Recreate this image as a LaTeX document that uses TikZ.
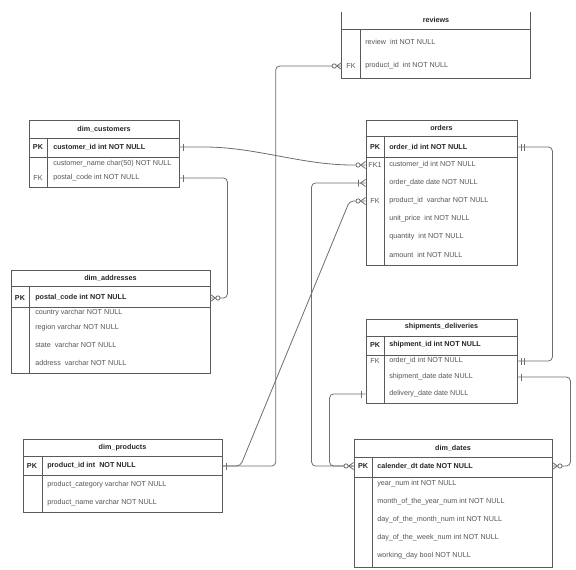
\documentclass[tikz,border=0pt]{standalone}
\usepackage{fontspec}
\setmainfont{Liberation Sans}
\usetikzlibrary{calc,fit}
\definecolor{erline}{HTML}{5A5A5A}
\definecolor{erlink}{HTML}{6E6E6E}
\definecolor{ertext}{HTML}{555555}
\definecolor{erdark}{HTML}{262626}
\tikzset{
  tbl/.style={draw=erline,line width=.65pt,inner sep=0pt},
  rule/.style={draw=erline,line width=.65pt},
  ttl/.style={inner sep=0pt,font=\fontsize{5.4}{6}\selectfont\bfseries,text=erdark},
  fld/.style={anchor=west,inner sep=0pt,font=\fontsize{5.4}{6}\selectfont,text=ertext},
  pkfld/.style={fld,font=\fontsize{5.4}{6}\selectfont\bfseries,text=erdark},
  keyl/.style={inner sep=0pt,font=\fontsize{5.4}{6}\selectfont,text=ertext},
  pkkey/.style={keyl,font=\fontsize{5.4}{6}\selectfont\bfseries,text=erdark},
  lnk/.style={draw=erlink,line width=.6pt,rounded corners=3pt},
  mk/.style={draw=erlink,line width=.6pt},
  erone/.pic={\draw[mk] (-4,-3.5) -- (-4,3.5);},
  ermand/.pic={\draw[mk] (-4,-3.5) -- (-4,3.5) (-6.5,-3.5) -- (-6.5,3.5);},
  erzmany/.pic={\draw[mk] (0,-3.5) -- (-5,0) -- (0,3.5);
    \draw[mk,fill=white] (-7.5,0) circle[radius=1.6pt];},
  eromany/.pic={\draw[mk] (0,-3.5) -- (-5,0) -- (0,3.5) (-7,-3.5) -- (-7,3.5);},
}
\begin{document}
\begin{tikzpicture}[x=.75pt,y=-.75pt]
  \path[use as bounding box,fill=white] (0,0) rectangle (576,569);

  % reviews
  \node[inner sep=0pt,fit={(342,12)(530,78)}] (rev) {};
  \draw[rule] (rev.north west) -- (rev.south west) -- (rev.south east) -- (rev.north east);
  \node[ttl] (revttl) at (436,20) {reviews};
  \draw[rule] (342,29) -- (530,29) (360,29) -- (360,78);
  \node[fld] (revrev) at (365,42) {review\ \ int NOT NULL};
  \node[keyl] (revk) at (351,66) {FK};
  \node[fld] (revprod) at (365,66) {product\_id\ \ int NOT NULL};

  % dim_customers
  \node[tbl,fit={(29,120)(179,187)}] (cust) {};
  \node[ttl] (custttl) at (104,129) {dim\_customers};
  \draw[rule] (29,138) -- (179,138) (29,157) -- (179,157) (47,138) -- (47,187);
  \node[pkkey] (custk1) at (38,147) {PK};
  \node[pkfld] (custid) at (53,147) {customer\_id int NOT NULL};
  \node[fld] (custname) at (53,164) {customer\_name char(50) NOT NULL};
  \node[keyl] (custk2) at (38,178) {FK};
  \node[fld] (custpost) at (53,178) {postal\_code int NOT NULL};

  % orders
  \node[tbl,fit={(366,120)(517,265)}] (ord) {};
  \node[ttl] (ordttl) at (441.5,128) {orders};
  \draw[rule] (366,136) -- (517,136) (366,157) -- (517,157) (384,136) -- (384,265);
  \node[pkkey] (ordk1) at (375,147) {PK};
  \node[pkfld] (ordid) at (389,147) {order\_id int NOT NULL};
  \node[keyl] (ordk2) at (375,165) {FK1};
  \node[fld] (ordcust) at (389,165) {customer\_id int NOT NULL};
  \node[fld] (orddate) at (389,183) {order\_date date NOT NULL};
  \node[keyl] (ordk3) at (375,201) {FK};
  \node[fld] (ordprod) at (389,201) {product\_id\ \ varchar NOT NULL};
  \node[fld] (ordprice) at (389,219) {unit\_price\ \ int NOT NULL};
  \node[fld] (ordqty) at (389,237) {quantity\ \ int NOT NULL};
  \node[fld] (ordamt) at (389,255) {amount\ \ int NOT NULL};

  % dim_addresses
  \node[tbl,fit={(11,270)(210,373)}] (addr) {};
  \node[ttl] (addrttl) at (110.5,278) {dim\_addresses};
  \draw[rule] (11,286) -- (210,286) (11,307) -- (210,307) (29,286) -- (29,373);
  \node[pkkey] (addrk) at (20,298) {PK};
  \node[pkfld] (addrpk) at (35,298) {postal\_code int NOT NULL};
  \node[fld] (addrcty) at (35,313) {country varchar NOT NULL};
  \node[fld] (addrreg) at (35,328) {region varchar NOT NULL};
  \node[fld] (addrst) at (35,345) {state\ \ varchar NOT NULL};
  \node[fld] (addradr) at (35,363) {address\ \ varchar NOT NULL};

  % shipments_deliveries
  \node[tbl,fit={(366,319)(517,403)}] (ship) {};
  \node[ttl] (shipttl) at (441.5,327) {shipments\_deliveries};
  \draw[rule] (366,336) -- (517,336) (366,355) -- (517,355) (384,336) -- (384,403);
  \node[pkkey] (shipk1) at (375,345) {PK};
  \node[pkfld] (shipid) at (389,345) {shipment\_id int NOT NULL};
  \node[keyl] (shipk2) at (375,361) {FK};
  \node[fld] (shipord) at (389,361) {order\_id int NOT NULL};
  \node[fld] (shipdate) at (389,377) {shipment\_date date NULL};
  \node[fld] (shipdel) at (389,394) {delivery\_date date NULL};

  % dim_products
  \node[tbl,fit={(23,439)(222,512)}] (prod) {};
  \node[ttl] (prodttl) at (122.5,448) {dim\_products};
  \draw[rule] (23,456) -- (222,456) (23,475) -- (222,475) (42,456) -- (42,512);
  \node[pkkey] (prodk) at (32,466) {PK};
  \node[pkfld] (prodid) at (47,466) {product\_id int\ \ NOT NULL};
  \node[fld] (prodcat) at (47,485) {product\_category varchar NOT NULL};
  \node[fld] (prodname) at (47,503) {product\_name varchar NOT NULL};

  % dim_dates
  \node[tbl,fit={(354,439)(552,567)}] (date) {};
  \node[ttl] (datettl) at (453,448) {dim\_dates};
  \draw[rule] (354,457) -- (552,457) (354,477) -- (552,477) (372,457) -- (372,567);
  \node[pkkey] (datek) at (363,466) {PK};
  \node[pkfld] (datepk) at (377,466) {calender\_dt date NOT NULL};
  \node[fld] (dateyr) at (377,484) {year\_num int NOT NULL};
  \node[fld] (datemon) at (377,502) {month\_of\_the\_year\_num int NOT NULL};
  \node[fld] (datedom) at (377,520) {day\_of\_the\_month\_num int NOT NULL};
  \node[fld] (datedow) at (377,538) {day\_of\_the\_week\_num int NOT NULL};
  \node[fld] (datewd) at (377,556) {working\_day bool NOT NULL};

  % relations
  \draw[lnk] (revprod -| rev.west) -- ++(-66,0) |- (prodid -| prod.east);
  \draw[lnk] (custid -| cust.east) -- ++(21,0) .. controls +(55,0) and +(-55,0) .. ($(ordcust -| ord.west)+(-9,0)$) -- (ordcust -| ord.west);
  \draw[lnk] (custpost -| cust.east) -- ++(48,0) |- (addrpk -| addr.east);
  \draw[lnk] (orddate -| ord.west) -- ++(-54,0) |- (datepk -| date.west);
  \draw[lnk] (ordprod -| ord.west) -- ++(-16,0) -- ($(prodid -| prod.east)+(18,0)$) -- (prodid -| prod.east);
  \draw[lnk] (ordid -| ord.east) -- ++(35,0) |- (shipord -| ship.east);
  \draw[lnk] (shipdate -| ship.east) -- ++(53,0) |- (datepk -| date.east);
  \draw[lnk] (shipdel -| ship.west) -- ++(-36,0) |- (datepk -| date.west);

  \pic at (revprod -| rev.west) {erzmany};
  \pic[rotate=180] at (prodid -| prod.east) {erone};
  \pic[rotate=180] at (custid -| cust.east) {erone};
  \pic at (ordcust -| ord.west) {erzmany};
  \pic[rotate=180] at (custpost -| cust.east) {erone};
  \pic[rotate=180] at (addrpk -| addr.east) {erzmany};
  \pic at (orddate -| ord.west) {eromany};
  \pic at (datepk -| date.west) {erzmany};
  \pic at (ordprod -| ord.west) {erzmany};
  \pic[rotate=180] at (ordid -| ord.east) {ermand};
  \pic[rotate=180] at (shipord -| ship.east) {ermand};
  \pic[rotate=180] at (shipdate -| ship.east) {erone};
  \pic[rotate=180] at (datepk -| date.east) {erzmany};
  \pic at (shipdel -| ship.west) {erone};
\end{tikzpicture}
\end{document}
